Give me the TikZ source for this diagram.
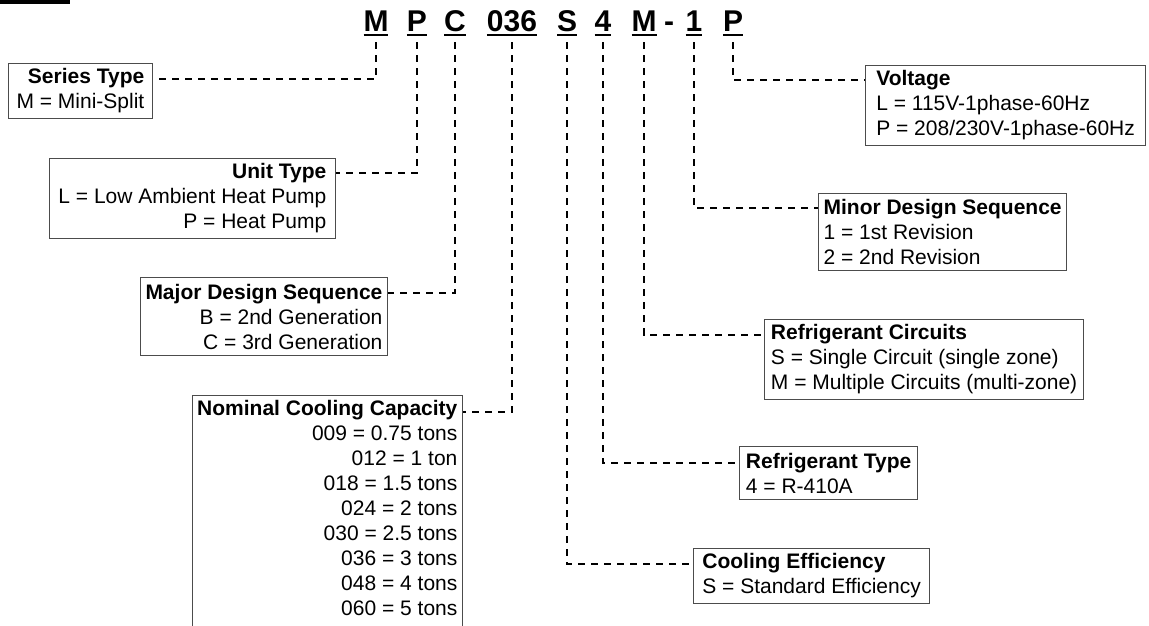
\documentclass[tikz,border=0pt]{standalone}
\usepackage{fontspec}
\setmainfont{Liberation Sans}
\usepackage{tikz}
\usetikzlibrary{positioning}

% underlined code character
\newcommand{\codeul}[1]{\setbox0=\hbox{#1}\rlap{\rule[-5pt]{\wd0}{2pt}}\box0}

\tikzset{
    codeletter/.style={font=\fontsize{30}{30}\selectfont\bfseries, inner xsep=0pt, inner ysep=6pt, anchor=base},
    keybox/.style={draw=black!70, line width=1.2pt, font=\fontsize{21}{25}\selectfont, inner xsep=5pt, inner ysep=5pt},
    leftkey/.style={keybox, align=right, anchor=north east},
    rightkey/.style={keybox, align=left, anchor=north west},
    conn/.style={line width=2pt, dash pattern=on 7pt off 6pt}
}

\begin{document}
\begin{tikzpicture}[x=1pt, y=-1pt]
    \useasboundingbox (0,0) rectangle (1149,625);

    % Heading rule (cut off)
    \fill (0,0) rectangle (70,4);

    % Model number
    \node[codeletter] (cSeries) at (376,31) {\codeul{M}};
    \node[codeletter] (cUnit) at (417,31) {\codeul{P}};
    \node[codeletter] (cMajor) at (455,31) {\codeul{C}};
    \node[codeletter] (cCapacity) at (512,31) {\codeul{036}};
    \node[codeletter] (cEfficiency) at (567,31) {\codeul{S}};
    \node[codeletter] (cRefType) at (603,31) {\codeul{4}};
    \node[codeletter] (cCircuits) at (644,31) {\codeul{M}};
    \node[codeletter] (cDash) at (669,31) {-};
    \node[codeletter] (cMinor) at (694,31) {\codeul{1}};
    \node[codeletter] (cVoltage) at (733,31) {\codeul{P}};

    % Left keys
    \node[leftkey, minimum width=144pt, minimum height=54pt] (series) at (153,63)
        {\textbf{Series Type}\\M = Mini-Split};
    \node[leftkey, minimum width=286pt, minimum height=78pt] (unit) at (336,158)
        {\textbf{Unit Type}\\L = Low Ambient Heat Pump\\P = Heat Pump};
    \node[leftkey, minimum width=243pt, minimum height=78pt] (major) at (388,277)
        {\textbf{Major Design Sequence}\\B = 2nd Generation\\C = 3rd Generation};
    \node[leftkey, minimum width=268pt] (capacity) at (463,395)
        {\textbf{Nominal Cooling Capacity}\\009 = 0.75 tons\\012 = 1 ton\\018 = 1.5 tons\\024 = 2 tons\\030 = 2.5 tons\\036 = 3 tons\\048 = 4 tons\\060 = 5 tons\rule[-14pt]{0pt}{14pt}};

    % Right keys
    \node[rightkey, minimum width=280pt, minimum height=78pt] (voltage) at (865,65)
        {\textbf{Voltage}\\L = 115V-1phase-60Hz\\P = 208/230V-1phase-60Hz};
    \node[rightkey, minimum width=247pt, minimum height=77pt] (minor) at (818,193)
        {\textbf{Minor Design Sequence}\\1 = 1st Revision\\2 = 2nd Revision};
    \node[rightkey, minimum width=319pt, minimum height=78pt] (circuits) at (764,319)
        {\textbf{Refrigerant Circuits}\\S = Single Circuit (single zone)\\M = Multiple Circuits (multi-zone)};
    \node[rightkey, minimum width=178pt, minimum height=53pt] (reftype) at (739,446)
        {\textbf{Refrigerant Type}\\4 = R-410A};
    \node[rightkey, minimum width=236pt, minimum height=53pt] (efficiency) at (693,548)
        {\textbf{Cooling Efficiency}\\S = Standard Efficiency};

    % Connectors
    \draw[conn] (cSeries.south) |- ([yshift=-16pt]series.north east);
    \draw[conn] (cUnit.south) |- ([yshift=-15pt]unit.north east);
    \draw[conn] (cMajor.south) |- ([yshift=-16pt]major.north east);
    \draw[conn] (cCapacity.south) |- ([yshift=-17pt]capacity.north east);
    \draw[conn] (cVoltage.south) |- ([yshift=-15pt]voltage.north west);
    \draw[conn] (cMinor.south) |- ([yshift=-15pt]minor.north west);
    \draw[conn] (cCircuits.south) |- ([yshift=-16pt]circuits.north west);
    \draw[conn] (cRefType.south) |- ([yshift=-17pt]reftype.north west);
    \draw[conn] (cEfficiency.south) |- ([yshift=-16pt]efficiency.north west);
\end{tikzpicture}
\end{document}
